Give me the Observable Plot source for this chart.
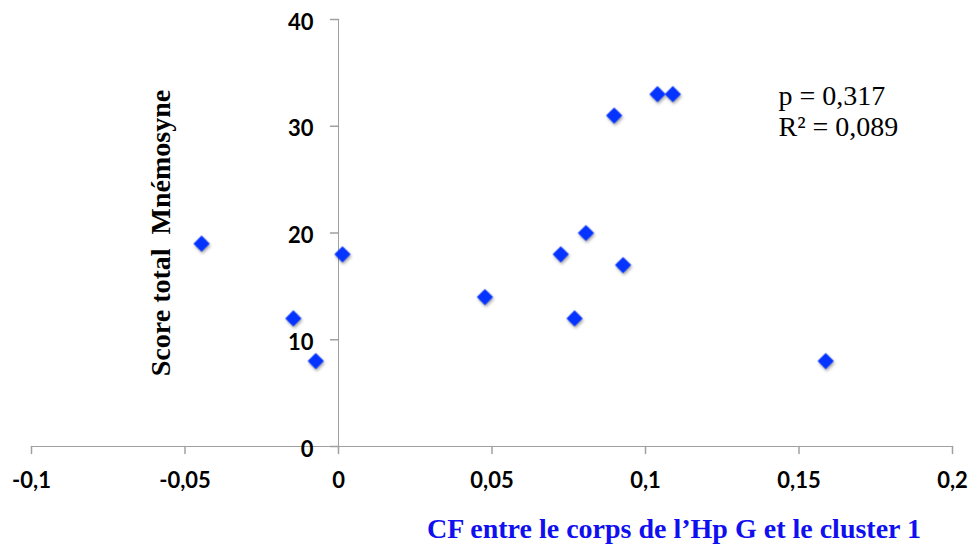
<!DOCTYPE html>
<html><head><meta charset="utf-8">
<script src="https://cdn.jsdelivr.net/npm/d3@7"></script>
<script src="https://cdn.jsdelivr.net/npm/@observablehq/plot@0.6"></script>
<style>body{margin:0;background:#fff}svg text{white-space:pre}</style>
</head><body><div id="chart"></div>
<script>
const cf = [-0.0446, -0.0147, -0.0074, 0.0013, 0.0477, 0.0724, 0.0769, 0.0806, 0.0898, 0.0927, 0.1039, 0.1089, 0.1587];
const score = [19, 12, 8, 18, 14, 18, 12, 20, 31, 17, 33, 33, 8];
const xTicks = [-0.1, -0.05, 0, 0.05, 0.1, 0.15, 0.2];
const yTicks = [0, 10, 20, 30, 40];
const xTitle = "CF entre le corps de l’Hp G et le cluster 1";
const yTitle = "Score total  Mnémosyne";
const stats = ["p = 0,317", "R² = 0,089"];

const points = cf.map((x, i) => ({x, y: score[i]}));
const axisColor = "#a0a0a0";
const tick = {draw(ctx, l) { ctx.moveTo(0, 0); ctx.lineTo(0, -l); }};
const fmt = d => String(d).replace(".", ",");

const chart = Plot.plot({
  width: 970, height: 554,
  marginLeft: 31, marginRight: 18, marginTop: 19, marginBottom: 108,
  x: {domain: [-0.1, 0.2], axis: null},
  y: {domain: [0, 40], axis: null},
  style: {fontFamily: "Lato", background: "#fff", color: "#000"},
  marks: [
    Plot.ruleY([0], {stroke: axisColor}),
    Plot.ruleX([0], {stroke: axisColor}),
    Plot.vector(xTicks, {x: d => d, y: 0, length: 7, rotate: 180, anchor: "start", shape: tick, stroke: axisColor}),
    Plot.vector(yTicks, {x: 0, y: d => d, length: 8, rotate: -90, anchor: "start", shape: tick, stroke: axisColor}),
    Plot.text(xTicks, {x: d => d, y: 0, text: fmt, dy: 34, fontSize: 22, fontWeight: "bold", fill: "#000"}),
    Plot.text(yTicks, {x: 0, y: d => d, text: fmt, textAnchor: "end", dx: -25, dy: 3, fontSize: 22, fontWeight: "bold", fill: "#000"}),
    Plot.dot(points, {x: "x", y: "y", symbol: "diamond2", r: 7.3, fill: "#0533ff", imageFilter: "drop-shadow(1px 2px 1.5px rgba(0,0,0,0.35))"}),
    Plot.text([yTitle], {frameAnchor: "left", dx: 130, rotate: -90, textAnchor: "middle", fontFamily: "Liberation Serif", fontWeight: "bold", fontSize: 28, fill: "#000"}),
    Plot.text([xTitle], {frameAnchor: "bottom", dx: 182, dy: 91, fontFamily: "Liberation Serif", fontWeight: "bold", fontSize: 28, fill: "#0f0fef"}),
    Plot.text([stats.join("\n")], {frameAnchor: "top-left", dx: 747, dy: 116, textAnchor: "start", lineAnchor: "bottom", lineHeight: 1.1, fontFamily: "Liberation Serif", fontSize: 28, fill: "#000"})
  ]
});
document.getElementById("chart").appendChild(chart);
</script>
</body></html>
